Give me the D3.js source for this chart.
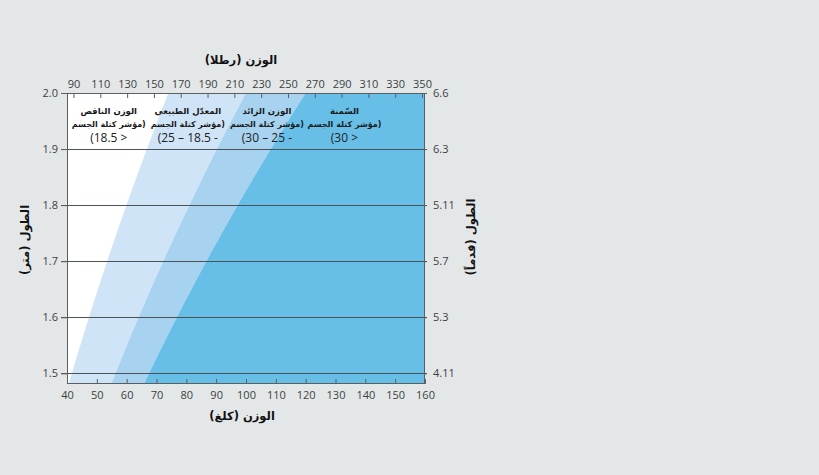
<!DOCTYPE html>
<html><head><meta charset="utf-8">
<script src="https://cdn.jsdelivr.net/npm/d3@7"></script>
<style>
body{margin:0;background:#e4e7e8;}
svg{display:block}
</style>
</head><body>
<svg id="c" width="819" height="475"></svg>
<script>
// ---------- data ----------
const kgTicks = [40, 50, 60, 70, 80, 90, 100, 110, 120, 130, 140, 150, 160];
const lbTicks = [90, 110, 130, 150, 170, 190, 210, 230, 250, 270, 290, 310, 330, 350];
const heightTicks = [1.5, 1.6, 1.7, 1.8, 1.9, 2.0];
const feetLabels = ["4.11", "5.3", "5.7", "5.11", "6.3", "6.6"];
const bmiBounds = [18.5, 25, 30];
const bandNames = ["الوزن الناقص", "المعدّل الطبيعي", "الوزن الزائد", "السّمنة"];
const bandSub = ["(مؤشر كتلة الجسم", "(مؤشر كتلة الجسم", "(مؤشر كتلة الجسم", "(مؤشر كتلة الجسم"];
const bandRange = ["< 18.5)", "- 18.5 – 25)", "- 25 – 30)", "< 30)"];
const bandLabelKg = [54, 80.5, 107, 133];
const titleTop = "الوزن (رطلا)";
const titleBottom = "الوزن (كلغ)";
const titleLeft = "الطول (متر)";
const titleRight = "الطول (قدماً)";

// ---------- layout ----------
const L = 67, R = 425, T = 93, B = 384;
const svg = d3.select("#c");
svg.append("rect").attr("width", 819).attr("height", 475).attr("fill", "#e4e7e8");

const x = d3.scaleLinear().domain([40, 160]).range([L, R]);
const xLb = d3.scaleLinear().domain([90, 350]).range([73.5, 422]);
const y = d3.scaleLinear().domain([1.481, 2.0]).range([B, T]);

svg.append("clipPath").attr("id", "plot").append("rect")
  .attr("x", L).attr("y", T).attr("width", R - L).attr("height", B - T);

const g = svg.append("g").attr("clip-path", "url(#plot)");
g.append("rect").attr("x", L).attr("y", T).attr("width", R - L).attr("height", B - T).attr("fill", "#ffffff");

const hs = d3.range(0, 101).map(i => 1.46 + i * (2.02 - 1.46) / 100);
const colors = ["#cfe4f6", "#a7d3f0", "#67bfe8"];
const bands = [
  {lo: bmiBounds[0], hi: bmiBounds[1]},
  {lo: bmiBounds[1], hi: bmiBounds[2]},
  {lo: bmiBounds[2], hi: null}
];
const area = d3.area().y(h => y(h));
bands.forEach((b, i) => {
  g.append("path")
    .attr("d", area.x0(h => x(b.lo * h * h)).x1(h => b.hi ? x(b.hi * h * h) : x(170))(hs))
    .attr("fill", colors[i]);
});

// gridlines
svg.append("g").selectAll("line").data(heightTicks.filter(d => d < 2.0)).join("line")
  .attr("x1", L - 6).attr("x2", R + 2)
  .attr("y1", d => Math.round(y(d)) + 0.5).attr("y2", d => Math.round(y(d)) + 0.5)
  .attr("stroke", "#4d5254").attr("stroke-width", 1);

// border
svg.append("rect").attr("x", L + 0.5).attr("y", T + 0.5).attr("width", R - L - 1).attr("height", B - T - 1)
  .attr("fill", "none").attr("stroke", "#5a5f62").attr("stroke-width", 1);

const tickFont = "'Open Sans', 'Noto Sans', sans-serif";
function styleAxis(sel) {
  sel.select(".domain").remove();
  sel.selectAll("text").attr("font-family", tickFont).attr("font-size", 11).attr("fill", "#3b3f42");
  sel.selectAll("line").attr("stroke", "#5a5f62");
}

svg.append("g").attr("transform", `translate(0,${B})`)
  .call(d3.axisBottom(x).tickValues(kgTicks).tickSizeInner(-5).tickSizeOuter(0).tickPadding(7))
  .call(styleAxis);
svg.append("g").attr("transform", `translate(0,${T})`)
  .call(d3.axisTop(xLb).tickValues(lbTicks).tickSizeInner(-5).tickSizeOuter(0).tickPadding(5))
  .call(styleAxis);
svg.append("g").attr("transform", `translate(${L},0)`)
  .call(d3.axisLeft(y).tickValues(heightTicks).tickFormat(d3.format(".1f")).tickSize(6).tickPadding(3))
  .call(styleAxis);
svg.append("g").attr("transform", `translate(${R},0)`)
  .call(d3.axisRight(y).tickValues(heightTicks).tickFormat((d, i) => feetLabels[i]).tickSize(2).tickPadding(6))
  .call(styleAxis);

// titles
const arFont = "'DejaVu Sans', sans-serif";
function title(txt, tx, ty, rot) {
  svg.append("text").attr("transform", `translate(${tx},${ty}) rotate(${rot})`)
    .attr("text-anchor", "middle").attr("direction", "rtl").attr("dy", "0.35em")
    .attr("font-family", arFont).attr("font-weight", "bold").attr("font-size", 11.5)
    .attr("fill", "#111").text(txt);
}
title(titleTop, 241, 60, 0);
title(titleBottom, 242, 416, 0);
title(titleLeft, 25, 240, -90);
title(titleRight, 471, 237, -90);

// band labels
bandNames.forEach((n, i) => {
  const cx = x(bandLabelKg[i]);
  svg.append("text").attr("x", cx).attr("y", 114).attr("text-anchor", "middle").attr("direction", "rtl")
    .attr("font-family", arFont).attr("font-weight", "bold").attr("font-size", 8.5).attr("fill", "#1a1a1a").text(n);
  svg.append("text").attr("x", cx).attr("y", 127).attr("text-anchor", "middle").attr("direction", "rtl")
    .attr("font-family", arFont).attr("font-weight", "bold").attr("font-size", 8).attr("fill", "#1a1a1a").text(bandSub[i]);
  svg.append("text").attr("x", cx).attr("y", 142).attr("text-anchor", "middle").attr("direction", "rtl")
    .attr("font-family", tickFont).attr("font-size", 12).attr("fill", "#222").text(bandRange[i]);
});
</script>
</body></html>
